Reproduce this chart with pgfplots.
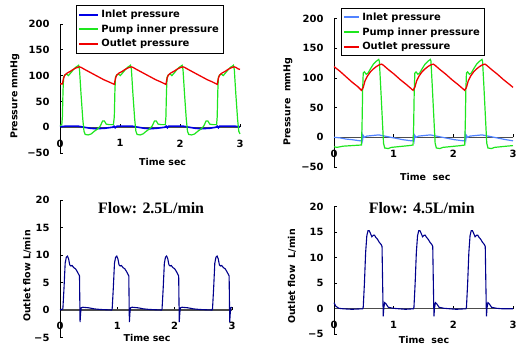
\documentclass[border=0pt]{standalone}
\usepackage{pgfplots}
\pgfplotsset{compat=1.18}
\usepackage{fontspec}
\setmainfont{DejaVu Sans}
\newfontfamily\serifb{Liberation Serif}
\definecolor{pgreen}{RGB}{30,230,30}
\definecolor{pred}{RGB}{240,0,0}
\definecolor{pblue}{RGB}{0,0,230}
\definecolor{lblue}{RGB}{80,130,255}
\definecolor{navy}{RGB}{0,0,140}
\pgfplotsset{
 myax/.style={scale only axis, anchor=south west, xmin=0, xmax=3,
  axis x line=middle, axis y line=left, axis line style={-},
  hide obscured x ticks=false, hide obscured y ticks=false,
  tick align=inside, major tick length=3bp,
  xtick={0,1,2,3}, xticklabels={0,1,2,3},
  /pgf/number format/assume math mode=true,
  ticklabel style={font=\fontsize{10}{12}\selectfont\bfseries},
  xticklabel style={anchor=north, yshift=-9bp},
  yticklabel style={anchor=east, xshift=-7bp},
  x axis line style={black!70, line width=1.2bp},
  y axis line style={black, line width=0.6bp},
  tick style={black, line width=0.6bp},
  clip=false},
 mylab/.style 2 args={every axis y label/.style={at={(axis description cs:#1)}, rotate=90, anchor=center, font=\fontsize{9.5}{11}\selectfont\bfseries},
  every axis x label/.style={at={(axis description cs:#2)}, anchor=center, font=\fontsize{9.5}{11}\selectfont\bfseries}},
 myleg/.style 2 args={legend style={at={(axis description cs:#1)}, anchor=north west, draw=black, line width=0.6bp, font=\fontsize{10}{12}\selectfont\bfseries, inner xsep=2bp, inner ysep=2.5bp, row sep=1.6bp},
  legend cell align=left,
  legend image code/.code={\path[draw, ##1, line width=2bp] (0bp,0bp) -- (#2,0bp);}},
}
\begin{document}
\begin{tikzpicture}
\path[use as bounding box] (0,0) rectangle (521bp,350bp);
% ---------------- top left
\begin{axis}[myax, at={(60bp,197bp)}, width=180bp, height=129bp,
  ymin=-50, ymax=200, ytick={-50,0,50,100,150,200}, yticklabels={−50,0,50,100,150,200},
  mylab={-0.25,0.44}{0.57,-0.07}, xlabel={Time sec}, ylabel={Pressure mmHg},
  myleg={0.089,1.145}{19bp}]
\addplot[pblue, line width=1.6bp] coordinates {(0,1)(0.1,2)(0.3,2)(0.4,0)(0.5,-2)(0.6,-3)(0.75,-2)(0.88,0)(0.9,2)(0.92,-1)(0.95,2)(1.2,2)(1.3,0)(1.4,-2)(1.5,-3)(1.62,-2)(1.75,0)(1.77,2)(1.79,-1)(1.81,2)(2.05,2)(2.15,0)(2.25,-2)(2.35,-3)(2.5,-2)(2.6,0)(2.62,2)(2.64,-1)(2.66,2)(2.9,2)(3.0,1)};
\addplot[pgreen, line width=1.2bp] coordinates {(0,3)(0.03,5)(0.04,20)(0.05,70)(0.06,97)(0.08,101)(0.11,103)(0.14,100)(0.17,104)(0.22,111)(0.26,116)(0.30,119)(0.31,120)(0.325,112)(0.35,65)(0.38,15)(0.40,-8)(0.42,-14)(0.47,-15)(0.52,-13)(0.57,-8)(0.62,-4)(0.67,2)(0.71,12)(0.74,12)(0.77,6)(0.82,5)(0.89,5)
(0.905,20)(0.915,70)(0.925,97)(0.945,101)(0.975,103)(1.005,100)(1.035,104)(1.085,111)(1.125,116)(1.165,119)(1.175,120)(1.19,112)(1.215,65)(1.245,15)(1.265,-8)(1.285,-14)(1.335,-15)(1.385,-13)(1.435,-8)(1.485,-4)(1.535,2)(1.575,12)(1.605,12)(1.635,6)(1.685,5)(1.755,5)
(1.765,20)(1.775,70)(1.785,97)(1.805,101)(1.835,103)(1.865,100)(1.895,104)(1.945,111)(1.985,116)(2.025,119)(2.035,120)(2.05,112)(2.075,65)(2.105,15)(2.125,-8)(2.145,-14)(2.195,-15)(2.245,-13)(2.295,-8)(2.345,-4)(2.395,2)(2.435,12)(2.465,12)(2.495,6)(2.545,5)(2.61,5)
(2.62,20)(2.63,70)(2.64,97)(2.66,101)(2.69,103)(2.72,100)(2.75,104)(2.80,111)(2.84,116)(2.88,119)(2.89,120)(2.905,112)(2.93,65)(2.96,15)(2.98,-8)(3.0,-13)};
\addplot[pred, line width=1.3bp] coordinates {(0,84)(0.04,84)(0.06,95)(0.08,101)(0.12,105)(0.17,108)(0.22,112)(0.27,115)(0.32,117)(0.35,116)(0.41,112)(0.49,107)(0.57,102)(0.65,97)(0.73,92)(0.81,88)(0.905,83)
(0.925,95)(0.945,101)(0.985,105)(1.035,108)(1.085,112)(1.135,115)(1.185,117)(1.215,116)(1.275,112)(1.355,107)(1.435,102)(1.515,97)(1.595,92)(1.675,88)(1.765,83)
(1.785,95)(1.805,101)(1.845,105)(1.895,108)(1.945,112)(1.995,115)(2.045,117)(2.075,116)(2.135,112)(2.215,107)(2.295,102)(2.375,97)(2.455,92)(2.535,88)(2.62,83)
(2.64,95)(2.66,101)(2.70,105)(2.75,108)(2.80,112)(2.85,115)(2.90,117)(2.93,116)(2.97,113)(3.0,112)};
\legend{Inlet pressure, Pump inner pressure, Outlet pressure}
\end{axis}
% ---------------- top right
\begin{axis}[myax, at={(334bp,183bp)}, width=179bp, height=148.6bp,
  ymin=-50, ymax=200, ytick={-50,0,50,100,150,200}, yticklabels={−50,0,50,100,150,200},
  mylab={-0.257,0.44}{0.51,-0.067}, xlabel={Time\ \ sec}, ylabel={Pressure\ \ mmHg},
  myleg={0.039,1.07}{15bp}]
\addplot[lblue, line width=1.2bp] coordinates {(0,0)(0.1,-1)(0.2,-3)(0.3,-4)(0.44,-6)
(0.46,-6)(0.47,4)(0.48,-4)(0.49,3)(0.51,0)(0.55,2)(0.65,3)(0.75,4)(0.85,2)(0.95,0)(1.05,-2)(1.15,-4)(1.3,-6)
(1.325,-6)(1.335,4)(1.345,-4)(1.355,3)(1.375,0)(1.415,2)(1.515,3)(1.615,4)(1.715,2)(1.815,0)(1.915,-2)(2.015,-4)(2.17,-6)
(2.19,-6)(2.20,4)(2.21,-4)(2.22,3)(2.24,0)(2.28,2)(2.38,3)(2.48,4)(2.58,2)(2.68,0)(2.78,-2)(2.88,-4)(3.0,-6)};
\addplot[pgreen, line width=1.2bp] coordinates {(0,-16)(0.05,-17)(0.15,-15)(0.3,-14)(0.46,-13)
(0.47,20)(0.48,80)(0.49,108)(0.51,110)(0.54,106)(0.57,108)(0.61,115)(0.66,123)(0.71,128)(0.75,131)(0.76,128)(0.78,90)(0.81,30)(0.83,-10)(0.85,-18)(0.91,-19)(0.96,-17)(1.06,-16)(1.16,-15)(1.26,-14)(1.325,-13)
(1.335,20)(1.345,80)(1.355,108)(1.375,110)(1.405,106)(1.435,108)(1.475,115)(1.525,123)(1.575,128)(1.615,131)(1.625,128)(1.645,90)(1.675,30)(1.695,-10)(1.715,-18)(1.775,-19)(1.825,-17)(1.925,-16)(2.025,-15)(2.125,-14)(2.19,-13)
(2.20,20)(2.21,80)(2.22,108)(2.24,110)(2.27,106)(2.30,108)(2.34,115)(2.39,123)(2.44,128)(2.48,131)(2.49,128)(2.51,90)(2.54,30)(2.56,-10)(2.58,-18)(2.64,-19)(2.69,-17)(2.79,-16)(2.89,-15)(3.0,-14)};
\addplot[pred, line width=1.3bp] coordinates {(0,119)(0.1,111)(0.2,102)(0.3,93)(0.4,85)(0.46,79)
(0.49,84)(0.52,95)(0.56,103)(0.61,110)(0.66,115)(0.71,119)(0.76,122)(0.80,123)(0.83,121)(0.91,114)(1.01,106)(1.11,97)(1.21,89)(1.325,79)
(1.355,84)(1.385,95)(1.425,103)(1.475,110)(1.525,115)(1.575,119)(1.625,122)(1.665,123)(1.695,121)(1.775,114)(1.875,106)(1.975,97)(2.075,89)(2.19,79)
(2.22,84)(2.25,95)(2.29,103)(2.34,110)(2.39,115)(2.44,119)(2.49,122)(2.53,123)(2.56,121)(2.64,114)(2.74,106)(2.84,97)(2.94,89)(3.0,84)};
\legend{Inlet pressure, Pump inner pressure, Outlet pressure}
\end{axis}
% ---------------- bottom left
\begin{axis}[myax, at={(60bp,12.5bp)}, width=172bp, height=137.5bp,
  ymin=-5, ymax=20, ytick={-5,0,5,10,15,20}, yticklabels={−5,0,5,10,15,20},
  mylab={-0.19,0.447}{0.506,-0.004}, xlabel={Time sec}, ylabel={Outlet flow L/min}]
\addplot[navy, line width=1.1bp] coordinates {(0,0)(0.05,0.2)
(0.07,4)(0.09,8.5)(0.11,9.6)(0.13,9.8)(0.15,9.3)(0.17,8.2)(0.19,8.0)(0.21,8.1)(0.24,7.7)(0.27,7.5)(0.30,7.0)(0.32,6.6)(0.34,6.2)(0.345,2)(0.35,-2.2)(0.36,-0.5)(0.37,0.4)(0.40,0.5)(0.50,0.4)(0.60,0.2)(0.70,0.1)(0.80,0.05)(0.90,0)
(0.91,0.2)(0.93,4)(0.95,8.5)(0.97,9.6)(0.99,9.8)(1.01,9.3)(1.03,8.2)(1.05,8.0)(1.07,8.1)(1.10,7.7)(1.13,7.5)(1.16,7.0)(1.18,6.6)(1.20,6.2)(1.205,2)(1.21,-2.2)(1.22,-0.5)(1.23,0.4)(1.26,0.5)(1.36,0.4)(1.46,0.2)(1.56,0.1)(1.66,0.05)(1.77,0)
(1.78,0.2)(1.80,4)(1.82,8.5)(1.84,9.6)(1.86,9.8)(1.88,9.3)(1.90,8.2)(1.92,8.0)(1.94,8.1)(1.97,7.7)(2.00,7.5)(2.03,7.0)(2.05,6.6)(2.07,6.2)(2.075,2)(2.08,-2.2)(2.09,-0.5)(2.10,0.4)(2.13,0.5)(2.23,0.4)(2.33,0.2)(2.43,0.1)(2.53,0.05)(2.65,0)
(2.66,0.2)(2.68,4)(2.70,8.5)(2.72,9.6)(2.74,9.8)(2.76,9.3)(2.78,8.2)(2.80,8.0)(2.82,8.1)(2.85,7.7)(2.88,7.5)(2.91,7.0)(2.93,6.6)(2.95,6.2)(2.955,2)(2.96,-2.2)(2.97,-0.5)(2.98,0.4)(3.0,0.5)};
\node[font=\serifb\fontsize{16}{18}\selectfont\bfseries] at (axis description cs:0.53,0.94) {Flow: 2.5L/min};
\end{axis}
% ---------------- bottom right
\begin{axis}[myax, at={(334bp,15.7bp)}, width=179bp, height=127.6bp,
  ymin=-5, ymax=20, ytick={-5,0,5,10,15,20}, yticklabels={−5,0,5,10,15,20},
  mylab={-0.235,0.453}{0.503,-0.045}, xlabel={Time\ \ sec}, ylabel={Outlet flow\ \ L/min}]
\addplot[navy, line width=1.1bp] coordinates {(0,1.2)(0.03,0.5)(0.08,0.1)(0.15,0)(0.3,-0.1)(0.48,0)
(0.49,0.3)(0.51,5)(0.53,11)(0.55,14.3)(0.57,15.3)(0.59,15.3)(0.61,14.8)(0.635,14.1)(0.66,14.4)(0.68,14.4)(0.70,14.0)(0.73,13.6)(0.76,13.0)(0.79,12.6)(0.805,12.2)(0.815,5)(0.825,-1.5)(0.835,0.2)(0.85,1.2)(0.87,1.0)(0.91,0.3)(0.99,0.1)(1.09,0)(1.2,-0.1)(1.33,0)
(1.34,0.3)(1.36,5)(1.38,11)(1.40,14.3)(1.42,15.3)(1.44,15.3)(1.46,14.8)(1.485,14.1)(1.51,14.4)(1.53,14.4)(1.55,14.0)(1.58,13.6)(1.61,13.0)(1.64,12.6)(1.655,12.2)(1.665,5)(1.675,-1.5)(1.685,0.2)(1.70,1.2)(1.72,1.0)(1.76,0.3)(1.84,0.1)(1.94,0)(2.05,-0.1)(2.21,0)
(2.22,0.3)(2.24,5)(2.26,11)(2.28,14.3)(2.30,15.3)(2.32,15.3)(2.34,14.8)(2.365,14.1)(2.39,14.4)(2.41,14.4)(2.43,14.0)(2.46,13.6)(2.49,13.0)(2.52,12.6)(2.535,12.2)(2.545,5)(2.555,-1.5)(2.565,0.2)(2.58,1.2)(2.60,1.0)(2.64,0.3)(2.72,0.1)(2.82,0)(3.0,0)};
\node[font=\serifb\fontsize{16}{18}\selectfont\bfseries] at (axis description cs:0.49,0.99) {Flow: 4.5L/min};
\end{axis}
\end{tikzpicture}
\end{document}
